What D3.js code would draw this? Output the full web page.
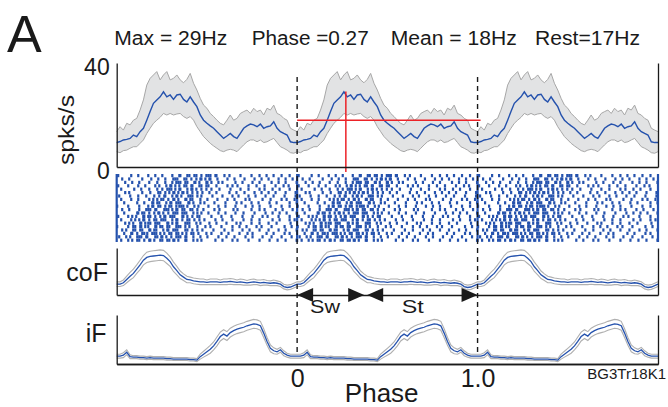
<!DOCTYPE html>
<html>
<head>
<meta charset="utf-8">
<script src="https://cdn.jsdelivr.net/npm/d3@7"></script>
<style>
  body { margin: 0; background: #fff; }
  svg { display: block; font-family: "Liberation Sans", Arial, Helvetica, sans-serif; }
</style>
</head>
<body>
<svg id="chart" width="668" height="407"></svg>
<script>
// one step cycle, 54 samples starting at phase 0 (drawn three times)
const meanRate = [9.4, 9.8, 10.4, 10.6, 11.0, 12.3, 11.7, 13.6, 14.9, 18.0, 21.3, 24.5, 25.8, 27.0,
  28.9, 27.0, 27.7, 26.0, 27.7, 28.0, 26.0, 25.0, 27.0, 25.0, 23.2, 20.0, 18.0, 16.8, 15.8, 14.9,
  13.6, 12.3, 11.0, 11.9, 12.9, 11.7, 11.0, 12.9, 14.9, 15.8, 16.5, 16.2, 15.5, 16.5, 14.9, 15.5,
  15.8, 17.4, 14.9, 13.6, 12.9, 12.3, 9.7, 9.4];
const rateUpper = [13.6, 15.5, 14.2, 16.8, 16.2, 18, 18.7, 21.9, 25.8, 31.5, 34.1, 35.4, 36.7, 33.5,
  35.4, 36.7, 33.5, 34.1, 35.4, 33.5, 32.4, 33.7, 36, 32.2, 29.6, 26.4, 23.8, 22.6, 20.6, 19.4,
  18, 16.8, 16.2, 18, 20, 18, 18.7, 20.6, 21.3, 21.9, 20.6, 22.6, 21.3, 21.9, 20, 22.6, 21.9,
  23.8, 20.6, 20, 18.7, 18, 14.9, 14.2];
const rateLower = [5.9, 5.5, 6.3, 6.5, 7.2, 7.8, 7.8, 9.1, 10.4, 12.9, 14.9, 16.8, 18, 19.1, 20.6,
  20, 20.6, 20, 20.4, 20.6, 19.4, 18.7, 19.4, 18, 15.5, 13.6, 11.7, 10.4, 9.1, 8.1, 7.2, 6.3, 5.9,
  6.5, 6.8, 6.5, 5.9, 7.2, 8.5, 9.7, 10.4, 10.4, 9.7, 10.4, 9.4, 9.7, 10.4, 11, 9.4, 7.8, 7.2,
  6.5, 5.5, 5.3];

const coF = [.23, .23, .26, .33, .40, .46, .55, .64, .74, .80, .82, .83, .84, .85, .84, .78, .71,
  .60, .52, .43, .38, .33, .32, .30, .29, .28, .28, .27, .28, .28, .28, .27, .28, .28, .29, .28,
  .27, .28, .27, .26, .27, .28, .27, .26, .27, .26, .25, .26, .25, .23, .18, .16, .17, .20];
const coFSpread = [.05, .05, .06, .07, .08, .09, .09, .10, .10, .11, .11, .11, .11, .11, .11, .11,
  .10, .10, .09, .08, .07, .07, .06, .06, .06, .06, .06, .05, .06, .06, .06, .05, .06, .06, .06,
  .06, .05, .06, .06, .05, .06, .06, .05, .06, .06, .05, .05, .06, .05, .05, .05, .05, .05, .05];

const iF = [.16, .16, .18, .24, .15, .14, .14, .13, .13, .12, .13, .12, .12, .12, .12, .11, .11,
  .10, .10, .10, .10, .10, .09, .09, .08, .15, .20, .25, .30, .37, .46, .56, .61, .57, .64, .68,
  .71, .73, .75, .78, .80, .82, .81, .78, .63, .46, .32, .27, .25, .29, .22, .18, .16, .16];
const iFSpread = [.04, .04, .05, .05, .04, .03, .03, .03, .03, .03, .03, .03, .03, .03, .03, .03,
  .03, .03, .03, .03, .03, .03, .03, .03, .03, .05, .06, .07, .08, .08, .09, .09, .09, .09, .09,
  .09, .09, .09, .09, .09, .09, .09, .09, .09, .09, .08, .07, .06, .05, .05, .05, .04, .04, .04];

// spike raster, one string per trial: 60 phase bins, digit = spike (1/2/3 = early/mid/late in bin)
const rasterRows = [
  "2...3..1.. 2.3..1..2. 31.2132.13 2131.3.2.. .1..3..2.3 ..1.3..2..",
  ".3..1...2. .2.3..1.32 1.213.2312 31.2..3..1 ..2..3..1. 2..3..1.2.",
  "..3..1.2.. 3..2..1.23 2132.312.3 12.3.1...2 .3...1.2.. .2.3..1..3",
  "2..3...1.2 ..3.1.2312 3.2131.213 2..1..3.2. 1..3..2..1 ..3..2.1..",
  ".2...3..1. 3..2.13212 31.2312.13 .2..1..3.. .1.3...2.1 .3..1..2..",
  "..3.1...2. .1.32.1231 2312.13.2. 3..1...2.3 ..2..3..1. 2.3...1..2",
  "3...2..1.3 ..2.131.23 12.3213.1. .3...1..2. 2..3..1..2 ..1..3...2",
  ".2..3..1.. 3.1232.131 2.3121.3.. 1..2..3..1 ..3.1...2. .1..3.2..1",
  "..2...3..1 .3121.2313 21.312.3.1 ..2...1..3 .2..3..1.. 3..1...2.3",
  "1..3...2.. 23132.1213 3212.3.1.. 2..3..1..2 ..3..1.2.. .1..3..2..",
  ".3..1..2.3 2131.32123 132.213.3. ..2.1...3. 1...3..2.1 ..3..1..2.",
  "..2...3121 3.2312.132 1321.23.1. 2..3..1..2 ..1..3...2 .3..1.2..3",
  "2..3.12.31 213.231321 .312.132.. .2..3...1. .3...1..2. 1..3...2..",
  ".2..3.1231 3.21321.23 13.213.2.1 ..3..1..2. ..1.3..2.. .3..1..2.1",
  "..3.12.312 21321.3123 1.321.23.. 3..1..2..3 .1..3..2.. 2..1...3..",
  "1..3.21312 2.312132.3 213.1.3..2 .1..3...2. 3..1..2.1. .2...3..1.",
  ".3.1.2132. 3121.23132 1.32.13.2. ..1..3..2. .3..1..2.. 2..3..1..3",
  "..2.313.21 132123.213 23.132.1.3 .2..3..1.. 3..2.1...3 ..1..3.2..",
  "3..12.3213 1.32312.13 2131.2.3.. 1..3..2..1 ..3..1..2. .2..3...1.",
  ".2.3.132.1 312.213231 2.31.23.1. ..3..1..2. 1..3...2.. 3..2..1..3"
].map((r) => r.replace(/ /g, ""));

const statLabels = ["Max = 29Hz", "Phase =0.27", "Mean = 18Hz", "Rest=17Hz"];
const peakRate = 29;
const peakPhase = 0.27;
const meanHz = 18;
const swingEnd = 0.38;
const rateTicks = [0, 40];
const phaseTicks = [0, 1];
const phaseTickLabels = ["0", "1.0"];
const cycles = [-1, 0, 1];

const blue = "#2552ad";
const ink = "#1a1a1a";
const svg = d3.select("#chart");

const x = d3.scaleLinear().domain([-1, 2]).range([116.7, 658]);
const yRate = d3.scaleLinear().domain([0, 40]).range([167, 63]);
const yCoF = d3.scaleLinear().domain([0, 1]).range([295, 248]);
const yIF = d3.scaleLinear().domain([0, 1]).range([364, 315]);

function tile(n) {
  const pts = [];
  cycles.forEach((c) => {
    for (let i = 0; i < n; i++) pts.push({ phase: c + i / n, i });
  });
  pts.push({ phase: 2, i: 0 });
  return pts;
}

const pts = tile(meanRate.length);

// ---- firing rate panel
svg.append("path")
  .datum(pts)
  .attr("fill", "#e2e3e4")
  .attr("d", d3.area()
    .x((d) => x(d.phase))
    .y0((d) => yRate(rateLower[d.i]))
    .y1((d) => yRate(rateUpper[d.i])));

[rateUpper, rateLower].forEach((arr) => {
  svg.append("path")
    .datum(pts)
    .attr("fill", "none")
    .attr("stroke", "#a7a7a7")
    .attr("stroke-width", 1)
    .attr("d", d3.line().x((d) => x(d.phase)).y((d) => yRate(arr[d.i])));
});

svg.append("path")
  .datum(pts)
  .attr("fill", "none")
  .attr("stroke", blue)
  .attr("stroke-width", 1.4)
  .attr("d", d3.line().x((d) => x(d.phase)).y((d) => yRate(meanRate[d.i])));

// ---- coF / iF traces with spread lines
function trace(values, spread, y) {
  const p = tile(values.length);
  [1, -1].forEach((s) => {
    svg.append("path")
      .datum(p)
      .attr("fill", "none")
      .attr("stroke", "#b0b0b0")
      .attr("stroke-width", 1.1)
      .attr("d", d3.line().x((d) => x(d.phase)).y((d) => y(values[d.i] + s * spread[d.i])));
  });
  svg.append("path")
    .datum(p)
    .attr("fill", "none")
    .attr("stroke", blue)
    .attr("stroke-width", 1.3)
    .attr("d", d3.line().x((d) => x(d.phase)).y((d) => y(values[d.i])));
}
trace(coF, coFSpread, yCoF);
trace(iF, iFSpread, yIF);

// ---- raster
const rasterTop = 174;
const rowStep = 3.4;
const spikes = [];
cycles.forEach((c) => {
  rasterRows.forEach((row, r) => {
    for (let i = 0; i < row.length; i++) {
      if (row[i] !== ".") {
        const sub = (+row[i] - 0.5) / 3;
        spikes.push({ phase: c + (i + sub) / row.length, r });
      }
    }
  });
});

svg.append("g")
  .selectAll("rect")
  .data(spikes)
  .join("rect")
  .attr("x", (d) => x(d.phase) - 1.1)
  .attr("y", (d) => rasterTop + d.r * rowStep)
  .attr("width", 2.2)
  .attr("height", 3.2)
  .attr("fill", blue);

svg.append("g")
  .selectAll("line")
  .data([-1, 0, 1, 2])
  .join("line")
  .attr("x1", (d) => x(d))
  .attr("x2", (d) => x(d))
  .attr("y1", rasterTop)
  .attr("y2", rasterTop + rasterRows.length * rowStep)
  .attr("stroke", blue)
  .attr("stroke-width", 2.2);

// ---- dashed cycle markers
svg.append("g")
  .selectAll("line")
  .data(phaseTicks)
  .join("line")
  .attr("x1", (d) => x(d))
  .attr("x2", (d) => x(d))
  .attr("y1", 77)
  .attr("y2", 353)
  .attr("stroke", ink)
  .attr("stroke-width", 1.4)
  .attr("stroke-dasharray", "5,4");

// ---- red max / mean markers
svg.append("line")
  .attr("x1", x(0)).attr("x2", x(1) + 3)
  .attr("y1", yRate(meanHz)).attr("y2", yRate(meanHz))
  .attr("stroke", "#ec2227").attr("stroke-width", 1.5);
svg.append("line")
  .attr("x1", x(peakPhase)).attr("x2", x(peakPhase))
  .attr("y1", yRate(peakRate)).attr("y2", 172)
  .attr("stroke", "#ec2227").attr("stroke-width", 1.5);

// ---- axes
function frame(y, bottom, leftAxis) {
  svg.append("g").attr("transform", `translate(${x(-1)},0)`).call(leftAxis);
  svg.append("g").attr("transform", `translate(0,${bottom})`)
    .call(d3.axisBottom(x).tickValues([]).tickSizeOuter(0));
  svg.append("g").attr("transform", `translate(${x(2)},0)`)
    .call(d3.axisRight(y).tickValues([]).tickSizeOuter(0));
}

frame(yRate, 167, d3.axisLeft(yRate).tickValues(rateTicks).tickSize(0).tickPadding(7));
frame(yCoF, 295, d3.axisLeft(yCoF).tickValues([]).tickSizeOuter(0));
frame(yIF, 364, d3.axisLeft(yIF).tickValues([]).tickSizeOuter(0));

const phaseAxis = svg.append("g")
  .attr("transform", `translate(0,364)`)
  .call(d3.axisBottom(x).tickValues(phaseTicks).tickSize(0).tickPadding(5)
    .tickFormat((d, i) => phaseTickLabels[i]));

svg.selectAll(".domain").attr("stroke", ink).attr("stroke-width", 1.3);
svg.selectAll(".tick text").attr("fill", ink).attr("font-size", 23)
  .attr("font-family", "Liberation Sans, Arial, sans-serif").attr("dy", "0.5em");
phaseAxis.selectAll(".tick text").attr("font-size", 25).attr("dy", "0.71em");

// ---- swing / stance arrows
const arrowY = yCoF(0);
function head(tip, dir) {
  const b = tip + dir * 16;
  svg.append("polygon")
    .attr("points", `${tip},${arrowY} ${b},${arrowY - 7} ${b},${arrowY + 7}`)
    .attr("fill", ink);
}
head(x(0), 1);
head(x(swingEnd) - 1.5, -1);
head(x(swingEnd) + 1.5, 1);
head(x(1), -1);

// ---- text
function label(txt, px, py, size, opts = {}) {
  const t = svg.append("text")
    .attr("x", px).attr("y", py)
    .attr("font-size", size)
    .attr("fill", ink)
    .attr("text-anchor", opts.anchor || "start")
    .text(txt);
  if (opts.len) t.attr("textLength", opts.len).attr("lengthAdjust", "spacingAndGlyphs");
  if (opts.rotate) t.attr("transform", `rotate(-90,${px},${py})`);
  return t;
}

label("A", 7, 52, 52);
const statX = [114.3, 251.7, 390.7, 535];
const statW = [113, 117, 126, 105];
statLabels.forEach((s, i) => label(s, statX[i], 45, 20, { len: statW[i] }));

label("spks/s", 74, 130, 22, { anchor: "middle", rotate: true, len: 70 });
label("coF", 108, 281, 25, { anchor: "end" });
label("iF", 106.5, 341.5, 25, { anchor: "end" });
label("Sw", 310, 313, 19, { len: 30 });
label("St", 401.7, 313, 19, { len: 22 });
label("Phase", 381.7, 401.5, 26, { anchor: "middle" });
label("BG3Tr18K1", 666, 379, 15, { anchor: "end" });
</script>
</body>
</html>
